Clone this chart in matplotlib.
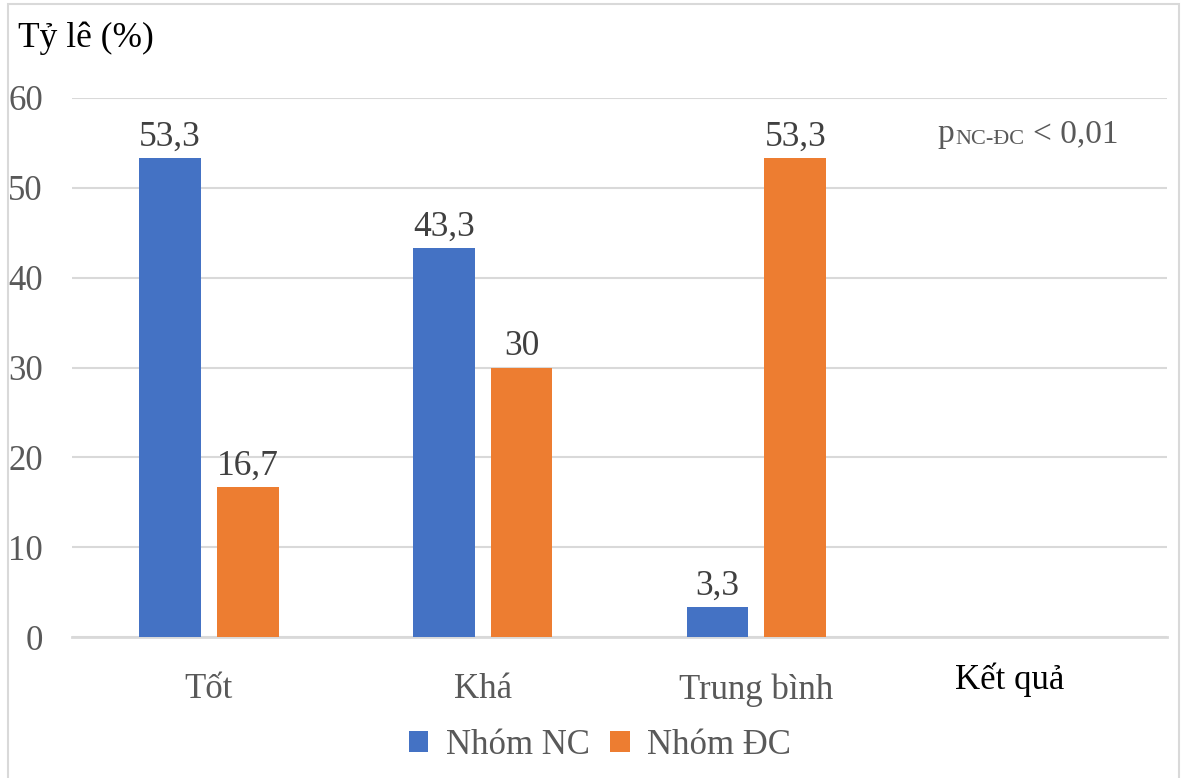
import matplotlib.pyplot as plt
from matplotlib.patches import Rectangle
import numpy as np

# Data
categories = ['Tốt', 'Khá', 'Trung bình', '']
nhom_nc = [53.3, 43.3, 3.3]
nhom_dc = [16.7, 30, 53.3]
nc_labels = ['53,3', '43,3', '3,3']
dc_labels = ['16,7', '30', '53,3']
y_ticks = [0, 10, 20, 30, 40, 50, 60]

plt.rcParams['font.family'] = ['Liberation Serif', 'DejaVu Serif']

W, H = 1181, 778
fig = plt.figure(figsize=(W / 100, H / 100), dpi=100)
ax = fig.add_axes([72 / W, 1 - 637 / H, (1167 - 72) / W, (637 - 98) / H])

x = np.arange(len(categories))
width = 0.226
off = 0.142
bars_nc = ax.bar(x[:3] - off, nhom_nc, width, color='#4472C4', label='Nhóm NC', zorder=3)
bars_dc = ax.bar(x[:3] + off, nhom_dc, width, color='#ED7D31', label='Nhóm ĐC', zorder=3)
ax.bar_label(bars_nc, labels=nc_labels, padding=3, fontsize=25.5, color='#404040')
ax.bar_label(bars_dc, labels=dc_labels, padding=3, fontsize=25.5, color='#404040')

ax.set_xlim(-0.5, len(categories) - 0.5)
ax.set_ylim(0, 60)
ax.set_yticks(y_ticks)
ax.set_xticks(x)
ax.set_xticklabels(categories)
ax.tick_params(axis='y', length=0, pad=21, labelsize=25, labelcolor='#595959')
ax.tick_params(axis='x', length=0, pad=26, labelsize=25, labelcolor='#595959')
ax.grid(axis='y', color='#D9D9D9', linewidth=1.5, zorder=0)
for side in ['top', 'right', 'left']:
    ax.spines[side].set_visible(False)
ax.spines['bottom'].set_color('#D9D9D9')
ax.spines['bottom'].set_linewidth(2)

# Axis titles
fig.text(18 / W, 1 - 38 / H, 'Tỷ lê (%)', fontsize=25.5, color='black', ha='left', va='center')
fig.text(1010 / W, 1 - 680 / H, 'Kết quả', fontsize=25, color='black', ha='center', va='center')

# p-value note
fig.text(937 / W, 1 - 142 / H, 'p', fontsize=24, color='#595959', ha='left', va='baseline')
fig.text(955 / W, 1 - 144 / H, 'NC-ĐC', fontsize=16, color='#595959', ha='left', va='baseline')
fig.text(1033 / W, 1 - 142 / H, '< 0,01', fontsize=24, color='#595959', ha='left', va='baseline')

ax.legend(loc='center', bbox_to_anchor=(600 / W, 1 - 745 / H), bbox_transform=fig.transFigure,
          ncol=2, frameon=False, fontsize=25, labelcolor='#595959', handlelength=0.55,
          handleheight=0.55, handletextpad=0.5, columnspacing=0.6)

# Chart border
fig.add_artist(Rectangle((8 / W, -0.01), (1179 - 8) / W, 1 - 4 / H + 0.01, transform=fig.transFigure,
                         fill=False, edgecolor='#D9D9D9', linewidth=1.5))

fig.savefig('out.png', dpi=100)
